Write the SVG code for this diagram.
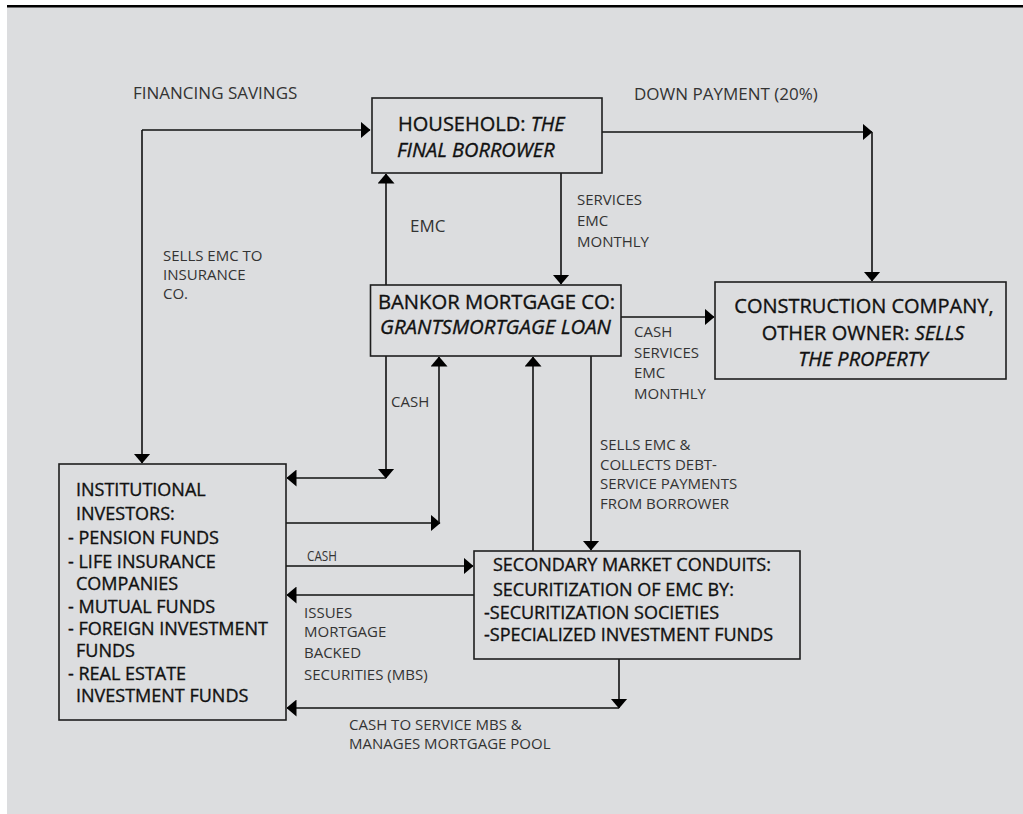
<svg xmlns="http://www.w3.org/2000/svg" width="1023" height="814" viewBox="0 0 1023 814">
<style>
.box{fill:none;stroke:#1e1e1e;stroke-width:1.6}
.bt{font-family:"Open Sans","Noto Sans","DejaVu Sans",sans-serif;font-size:20px;fill:#111;stroke:#111;stroke-width:0.35}
.st{font-family:"Open Sans","Noto Sans","DejaVu Sans",sans-serif;font-size:18px;fill:#111;stroke:#111;stroke-width:0.35}
.lb{font-family:"Open Sans","Noto Sans","DejaVu Sans",sans-serif;font-size:15px;fill:#333}
.lg{font-family:"Open Sans","Noto Sans","DejaVu Sans",sans-serif;font-size:17px;fill:#333}
.it{font-style:italic}
.cn path{fill:none;stroke:#111;stroke-width:1.6;marker-end:url(#ah)}
</style>
<defs>
<marker id="ah" markerUnits="userSpaceOnUse" markerWidth="10" markerHeight="17" refX="9.5" refY="8.5" orient="auto">
<path d="M0,0 L10,8.5 L0,17 Z" fill="#000"/>
</marker>
</defs>
<rect x="7" y="7" width="1016" height="807" fill="#dcdddf"/>
<line x1="7" y1="6.2" x2="1023" y2="6.2" stroke="#000" stroke-width="2.6"/>

<g id="connectors" class="cn">
<path d="M142,130 H370"/>
<path d="M142,130 V463"/>
<path d="M602,132 H872"/>
<path d="M872,132 V281"/>
<path d="M386,285 V174"/>
<path d="M561,173 V284"/>
<path d="M621,317 H714"/>
<path d="M386,356 V478"/>
<path d="M386,478 H287"/>
<path d="M286,523 H440"/>
<path d="M439,523 V357"/>
<path d="M533,551 V357"/>
<path d="M591,356 V550"/>
<path d="M286,566 H473"/>
<path d="M474,595 H287"/>
<path d="M619,659 V708"/>
<path d="M619,708 H287"/>
</g>

<g id="labels">
<text class="lg" x="133" y="99">FINANCING SAVINGS</text>
<text class="lg" x="634" y="100">DOWN PAYMENT (20%)</text>
<text class="lg" x="410" y="232">EMC</text>
<text class="lb" x="163" y="261">SELLS EMC TO</text>
<text class="lb" x="163" y="280">INSURANCE</text>
<text class="lb" x="163" y="298.5">CO.</text>
<text class="lb" x="577" y="205" font-size="16">SERVICES</text>
<text class="lb" x="577" y="226" font-size="16">EMC</text>
<text class="lb" x="577" y="247" font-size="16">MONTHLY</text>
<text class="lb" x="634" y="337" font-size="16">CASH</text>
<text class="lb" x="634" y="357.5" font-size="16">SERVICES</text>
<text class="lb" x="634" y="378" font-size="16">EMC</text>
<text class="lb" x="634" y="398.5" font-size="16">MONTHLY</text>
<text class="lb" x="391" y="407">CASH</text>
<text class="lb" x="600" y="450">SELLS EMC &amp;</text>
<text class="lb" x="600" y="469.5">COLLECTS DEBT-</text>
<text class="lb" x="600" y="489">SERVICE PAYMENTS</text>
<text class="lb" x="600" y="508.5">FROM BORROWER</text>
<text class="lb" x="307" y="561" textLength="30" lengthAdjust="spacingAndGlyphs">CASH</text>
<text class="lb" x="304" y="618" font-size="14.5">ISSUES</text>
<text class="lb" x="304" y="637" font-size="14.5">MORTGAGE</text>
<text class="lb" x="304" y="658" font-size="14.5">BACKED</text>
<text class="lb" x="304" y="680" font-size="14.5">SECURITIES (MBS)</text>
<text class="lb" x="349" y="730">CASH TO SERVICE MBS &amp;</text>
<text class="lb" x="349" y="748.5">MANAGES MORTGAGE POOL</text>
</g>

<g id="household">
<rect class="box" x="372" y="98" width="230" height="75"/>
<text class="bt" x="398" y="131">HOUSEHOLD: <tspan class="it">THE</tspan></text>
<text class="bt it" x="397" y="157">FINAL BORROWER</text>
</g>

<g id="bank">
<rect class="box" x="370.5" y="285" width="250.5" height="71"/>
<text class="bt" x="378" y="308.5" font-size="19" textLength="237" lengthAdjust="spacingAndGlyphs">BANKOR MORTGAGE CO:</text>
<text class="bt it" x="380" y="333.5" font-size="19" textLength="231" lengthAdjust="spacingAndGlyphs">GRANTSMORTGAGE LOAN</text>
</g>

<g id="construction">
<rect class="box" x="715" y="282" width="291" height="97"/>
<text class="bt" x="864" y="313" text-anchor="middle" font-size="20.5">CONSTRUCTION COMPANY,</text>
<text class="bt" x="863" y="340" text-anchor="middle" font-size="20.5">OTHER OWNER: <tspan class="it">SELLS</tspan></text>
<text class="bt it" x="863" y="366" text-anchor="middle" font-size="20.5">THE PROPERTY</text>
</g>

<g id="institutional">
<rect class="box" x="59" y="464" width="227" height="256"/>
<text class="st" x="76" y="496">INSTITUTIONAL</text>
<text class="st" x="76" y="520">INVESTORS:</text>
<text class="st" x="68" y="544">- PENSION FUNDS</text>
<text class="st" x="68" y="567.5">- LIFE INSURANCE</text>
<text class="st" x="76" y="590">COMPANIES</text>
<text class="st" x="68" y="612.5">- MUTUAL FUNDS</text>
<text class="st" x="68" y="635">- FOREIGN INVESTMENT</text>
<text class="st" x="76" y="657">FUNDS</text>
<text class="st" x="68" y="680">- REAL ESTATE</text>
<text class="st" x="76" y="701.5">INVESTMENT FUNDS</text>
</g>

<g id="secondary">
<rect class="box" x="474" y="551" width="326" height="108"/>
<text class="st" x="493" y="571" font-size="18.5">SECONDARY MARKET CONDUITS:</text>
<text class="st" x="493" y="596" font-size="18.5">SECURITIZATION OF EMC BY:</text>
<text class="st" x="484" y="618.5" font-size="18.5">-SECURITIZATION SOCIETIES</text>
<text class="st" x="484" y="641" font-size="18.5">-SPECIALIZED INVESTMENT FUNDS</text>
</g>
</svg>
